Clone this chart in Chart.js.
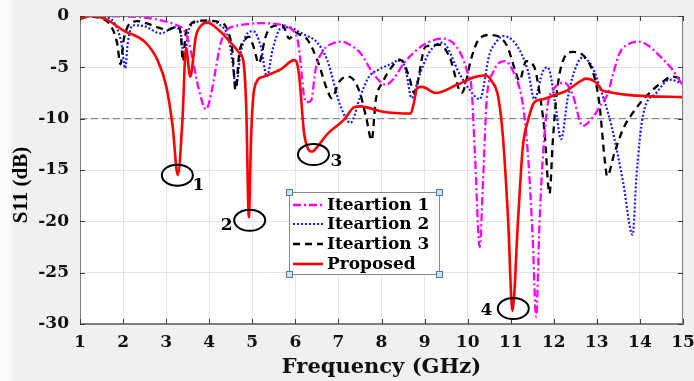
<!DOCTYPE html>
<html>
<head>
<meta charset="utf-8">
<script src="https://cdn.jsdelivr.net/npm/chart.js@4/dist/chart.umd.min.js"></script>
<style>
  html, body { margin: 0; padding: 0; background: #f0f0f0; }
  canvas { display: block; }
</style>
</head>
<body>
<canvas id="c" width="694" height="381"></canvas>
<script>
// Frequency axis ticks (GHz) and S11 axis ticks (dB)
const freqTicks = [1, 2, 3, 4, 5, 6, 7, 8, 9, 10, 11, 12, 13, 14, 15];
const s11Ticks = [0, -5, -10, -15, -20, -25, -30];

// Iteration 1
const freqIt1 = [1.0, 1.5, 2.0, 2.5, 3.0, 3.25, 3.42, 3.52, 3.62, 3.75, 3.93, 4.05, 4.12, 4.27, 4.43, 4.6, 4.73, 5.2, 5.66, 5.93, 6.05, 6.12, 6.2, 6.28, 6.37, 6.47, 6.66, 6.85, 7.09, 7.3, 7.51, 7.79, 8.1, 8.3, 8.52, 8.98, 9.44, 9.83, 10.02, 10.09, 10.17, 10.28, 10.36, 10.44, 10.59, 10.86, 11.09, 11.28, 11.4, 11.51, 11.59, 11.67, 11.75, 11.86, 12.02, 12.25, 12.44, 12.67, 12.9, 13.1, 13.25, 13.36, 13.53, 13.75, 13.96, 14.2, 14.46, 14.75, 15.0];
const s11It1 = [0, 0, -0.05, -0.15, -0.55, -0.9, -1.4, -2.5, -4.3, -7.0, -9.1, -7.5, -5.9, -2.6, -1.3, -1.0, -0.87, -0.7, -0.85, -1.36, -2.3, -4.5, -7.8, -8.4, -8.2, -5.2, -3.3, -2.7, -2.5, -2.9, -3.6, -5.5, -6.7, -6.0, -4.6, -2.8, -2.2, -3.6, -5.8, -7.0, -13.5, -22.5, -15.8, -8.3, -5.5, -4.4, -5.7, -8.6, -13.5, -21.6, -29.3, -20.0, -13.5, -8.6, -7.0, -6.5, -7.7, -10.7, -9.9, -8.6, -7.6, -5.9, -3.6, -2.7, -2.5, -2.9, -3.9, -5.2, -6.8];

// Iteration 2
const freqIt2 = [1.0, 1.57, 1.8, 1.96, 2.05, 2.11, 2.23, 2.5, 2.88, 3.19, 3.33, 3.42, 3.52, 3.73, 3.95, 4.25, 4.45, 4.54, 4.62, 4.73, 4.96, 5.03, 5.2, 5.34, 5.47, 5.66, 5.81, 6.2, 6.51, 6.74, 7.05, 7.28, 7.51, 7.71, 7.94, 8.25, 8.45, 8.56, 8.7, 8.87, 9.1, 9.41, 9.82, 10.05, 10.28, 10.51, 10.67, 10.82, 11.13, 11.4, 11.55, 11.75, 11.86, 12.02, 12.17, 12.32, 12.48, 12.67, 12.9, 13.05, 13.34, 13.61, 13.83, 13.92, 14.07, 14.38, 14.69, 15.0];
const s11It2 = [0, -0.1, -0.7, -2.6, -5.1, -2.6, -0.9, -1.0, -1.7, -1.1, -1.5, -4.3, -1.4, -0.55, -0.45, -0.87, -2.2, -4.5, -6.9, -3.6, -1.5, -1.5, -3.0, -5.9, -3.3, -1.2, -1.1, -1.8, -2.6, -4.3, -8.8, -10.4, -7.8, -5.9, -5.2, -4.6, -4.2, -5.2, -8.0, -5.9, -3.6, -2.6, -5.7, -7.2, -8.1, -3.7, -2.5, -1.95, -2.8, -5.35, -8.1, -5.35, -5.0, -8.1, -12.0, -8.1, -5.35, -4.05, -5.0, -6.7, -10.7, -16.2, -21.3, -15.6, -9.7, -7.5, -6.2, -6.6];

// Iteration 3
const freqIt3 = [1.0, 1.47, 1.72, 1.86, 1.94, 2.02, 2.2, 2.33, 2.57, 2.8, 3.04, 3.27, 3.34, 3.39, 3.45, 3.55, 3.65, 3.87, 4.19, 4.43, 4.54, 4.61, 4.7, 4.85, 4.92, 5.03, 5.15, 5.31, 5.43, 5.7, 5.86, 6.0, 6.1, 6.28, 6.51, 6.74, 6.84, 7.02, 7.2, 7.3, 7.5, 7.65, 7.77, 7.87, 8.02, 8.25, 8.45, 8.64, 8.76, 9.02, 9.36, 9.59, 9.86, 10.1, 10.24, 10.51, 10.9, 11.12, 11.2, 11.36, 11.55, 11.65, 11.78, 11.9, 11.98, 12.07, 12.2, 12.44, 12.7, 12.94, 13.06, 13.18, 13.24, 13.41, 13.61, 13.84, 14.15, 14.53, 14.76, 15.0];
const s11It3 = [0, -0.2, -1.0, -2.6, -4.7, -2.2, -0.6, -0.5, -0.75, -1.1, -1.36, -1.0, -1.8, -4.4, -1.8, -0.9, -0.55, -0.45, -0.55, -1.4, -3.5, -7.2, -3.6, -2.2, -2.0, -3.0, -4.6, -2.0, -1.1, -0.9, -2.2, -1.6, -1.8, -2.3, -4.3, -7.2, -8.0, -6.4, -5.9, -6.0, -7.5, -10.0, -12.1, -8.1, -6.5, -4.9, -4.3, -5.9, -7.5, -3.0, -2.8, -4.1, -7.5, -3.9, -2.4, -1.85, -2.8, -5.5, -6.3, -4.4, -5.0, -7.0, -11.0, -17.3, -12.0, -7.5, -4.5, -3.5, -3.9, -5.9, -8.6, -13.9, -15.6, -13.3, -11.0, -9.4, -7.8, -6.4, -5.9, -6.2];

// Proposed antenna
const freqProp = [1.0, 1.25, 1.6, 2.0, 2.5, 2.8, 3.0, 3.15, 3.27, 3.38, 3.46, 3.56, 3.69, 3.82, 3.96, 4.2, 4.5, 4.7, 4.8, 4.86, 4.92, 4.97, 5.02, 5.1, 5.27, 5.66, 5.97, 6.02, 6.09, 6.2, 6.28, 6.39, 6.5, 6.74, 7.13, 7.36, 7.51, 8.0, 8.68, 8.75, 8.83, 8.94, 9.26, 9.75, 10.21, 10.42, 10.55, 10.71, 10.82, 10.94, 11.04, 11.17, 11.28, 11.4, 11.55, 11.75, 12.02, 12.29, 12.6, 12.75, 12.96, 13.15, 15.0];
const s11Prop = [-0.3, 0, -0.3, -1.4, -2.5, -4.3, -6.8, -10.7, -15.5, -10.0, -3.1, -5.9, -2.0, -0.9, -0.65, -1.3, -2.6, -3.6, -4.6, -9.0, -19.6, -12.0, -8.0, -6.4, -5.9, -5.2, -4.3, -4.4, -5.9, -11.3, -12.8, -13.2, -12.8, -11.5, -10.1, -8.9, -8.8, -9.3, -9.5, -8.5, -7.0, -6.9, -7.5, -6.7, -5.9, -5.8, -6.3, -7.9, -11.8, -19.9, -28.7, -19.9, -12.8, -10.2, -8.4, -8.1, -7.7, -7.3, -6.4, -6.1, -6.4, -7.3, -7.9];

// -10 dB reference level
const refFreq = [1, 15];
const refS11 = [-10, -10];

// Numbered resonances
const markNums = ['1', '2', '3', '4'];
const markFreq = [3.26, 4.94, 6.42, 11.06];
const markS11 = [-15.5, -19.9, -13.5, -28.5];

const seriesNames = ['Iteartion 1', 'Iteartion 2', 'Iteartion 3', 'Proposed'];

const pts = (f, v) => f.map((x, i) => ({ x: x, y: v[i] }));

const TICK_FONT = { family: 'DejaVu Serif', weight: 'bold', size: 17 };

const datasets = [
  { label: seriesNames[3], data: pts(freqProp, s11Prop), borderColor: '#ff0000', borderWidth: 2.6, borderDash: [] },
  { label: seriesNames[0], data: pts(freqIt1, s11It1), borderColor: '#ff00ff', borderWidth: 2.3, borderDash: [8, 3, 2, 3] },
  { label: seriesNames[2], data: pts(freqIt3, s11It3), borderColor: '#000000', borderWidth: 2.3, borderDash: [7, 5] },
  { label: seriesNames[1], data: pts(freqIt2, s11It2), borderColor: '#1a1aff', borderWidth: 2.2, borderDash: [2, 2] },
  { label: '-10 dB', data: pts(refFreq, refS11), borderColor: '#8c8c8c', borderWidth: 1.3, borderDash: [7, 4], cubicInterpolationMode: 'default', tension: 0 }
];
datasets.forEach(d => {
  d.pointRadius = 0;
  d.fill = false;
  if (!d.cubicInterpolationMode) d.cubicInterpolationMode = 'monotone';
});

// Figure background, white axes box, frame and inward tick marks
const framePlugin = {
  id: 'frame',
  beforeDraw(chart) {
    const { ctx, chartArea: a } = chart;
    ctx.save();
    ctx.fillStyle = '#f0f0f0';
    ctx.fillRect(0, 0, chart.width, chart.height);
    ctx.fillStyle = '#fbfbfb';
    ctx.fillRect(0, 0, 11, chart.height);
    ctx.fillStyle = '#ffffff';
    ctx.fillRect(a.left, a.top, a.right - a.left, a.bottom - a.top);
    ctx.restore();
  },
  afterDatasetsDraw(chart) {
    const { ctx, chartArea: a, scales } = chart;
    ctx.save();
    ctx.strokeStyle = '#7f7f7f';
    ctx.lineWidth = 1;
    ctx.strokeRect(a.left + 0.5, a.top + 0.5, a.right - a.left - 1, a.bottom - a.top - 1);
    ctx.strokeStyle = '#3c3c3c';
    ctx.beginPath();
    freqTicks.forEach(v => {
      const x = Math.round(scales.x.getPixelForValue(v)) + 0.5;
      ctx.moveTo(x, a.bottom); ctx.lineTo(x, a.bottom - 5);
      ctx.moveTo(x, a.top); ctx.lineTo(x, a.top + 5);
    });
    s11Ticks.forEach(v => {
      const y = Math.round(scales.y.getPixelForValue(v)) + 0.5;
      ctx.moveTo(a.left, y); ctx.lineTo(a.left + 5, y);
      ctx.moveTo(a.right, y); ctx.lineTo(a.right - 5, y);
    });
    ctx.stroke();
    ctx.restore();
  }
};

// Circled resonance numbers, legend box and the S11 axis title
const overlayPlugin = {
  id: 'overlay',
  afterDraw(chart) {
    const { ctx, scales } = chart;
    const labelOffset = [[21, 10], [-23, 5], [23, 7], [-27, 2]];
    ctx.save();
    ctx.strokeStyle = '#000';
    ctx.fillStyle = '#000';
    ctx.lineWidth = 2;
    ctx.font = 'bold 17px "DejaVu Serif"';
    ctx.textAlign = 'center';
    ctx.textBaseline = 'middle';
    markNums.forEach((n, i) => {
      const cx = scales.x.getPixelForValue(markFreq[i]);
      const cy = scales.y.getPixelForValue(markS11[i]);
      ctx.beginPath();
      ctx.ellipse(cx, cy, 15.5, 10.5, 0, 0, Math.PI * 2);
      ctx.stroke();
      ctx.fillText(n, cx + labelOffset[i][0], cy + labelOffset[i][1]);
    });

    // legend
    const lx = 289, ly = 192, lw = 150, lh = 82;
    ctx.fillStyle = '#ffffff';
    ctx.fillRect(lx, ly, lw, lh);
    ctx.strokeStyle = '#888888';
    ctx.lineWidth = 1;
    ctx.strokeRect(lx + 0.5, ly + 0.5, lw, lh);
    const order = [1, 3, 2, 0];
    const rowY = [205, 224, 244, 264];
    ctx.textAlign = 'left';
    ctx.font = 'bold 17px "DejaVu Serif"';
    order.forEach((di, r) => {
      const ds = chart.data.datasets[di];
      ctx.save();
      ctx.strokeStyle = ds.borderColor;
      ctx.lineWidth = ds.borderWidth;
      ctx.setLineDash(ds.borderDash);
      ctx.beginPath();
      ctx.moveTo(293, rowY[r]);
      ctx.lineTo(323, rowY[r]);
      ctx.stroke();
      ctx.restore();
      ctx.fillStyle = '#000';
      ctx.fillText(ds.label, 327, rowY[r] + 1);
    });
    // selection handles on the legend corners
    [[lx, ly], [lx + lw, ly], [lx, ly + lh], [lx + lw, ly + lh]].forEach(([hx, hy]) => {
      ctx.fillStyle = '#cfe3f5';
      ctx.fillRect(hx - 3, hy - 3, 7, 7);
      ctx.strokeStyle = '#3d7fc4';
      ctx.strokeRect(hx - 2.5, hy - 2.5, 6, 6);
    });

    // y axis title
    ctx.save();
    ctx.translate(22, 185);
    ctx.rotate(-Math.PI / 2);
    ctx.fillStyle = '#000';
    ctx.textAlign = 'center';
    ctx.textBaseline = 'middle';
    ctx.font = 'bold 21px "Liberation Serif"';
    ctx.fillText('S11 (dB)', 0, 0);
    ctx.restore();
    ctx.restore();
  }
};

new Chart(document.getElementById('c'), {
  type: 'line',
  data: { datasets },
  options: {
    responsive: false,
    animation: false,
    devicePixelRatio: 1,
    layout: { padding: { top: 16, right: 11, left: 0, bottom: 0 } },
    plugins: { legend: { display: false }, tooltip: { enabled: false } },
    scales: {
      x: {
        type: 'linear', min: 1, max: 15,
        afterBuildTicks: s => { s.ticks = freqTicks.map(v => ({ value: v })); },
        ticks: { font: TICK_FONT, color: '#111', padding: 8, maxRotation: 0, autoSkip: false },
        grid: { color: '#e4e4e4', drawTicks: false },
        border: { color: '#7f7f7f' },
        title: { display: true, text: 'Frequency (GHz)', color: '#111', font: { family: 'DejaVu Serif', weight: 'bold', size: 21 }, padding: { top: 0, bottom: 1 } },
        afterFit: s => { s.height = 57; s.paddingLeft = 0; s.paddingRight = 0; }
      },
      y: {
        type: 'linear', min: -30, max: 0,
        afterBuildTicks: s => { s.ticks = s11Ticks.map(v => ({ value: v })); },
        ticks: { font: TICK_FONT, color: '#111', padding: 11, autoSkip: false },
        grid: { color: '#e4e4e4', drawTicks: false },
        border: { color: '#7f7f7f' },
        afterFit: s => { s.width = 80; s.paddingTop = 0; s.paddingBottom = 0; }
      }
    }
  },
  plugins: [framePlugin, overlayPlugin]
});
</script>
</body>
</html>
